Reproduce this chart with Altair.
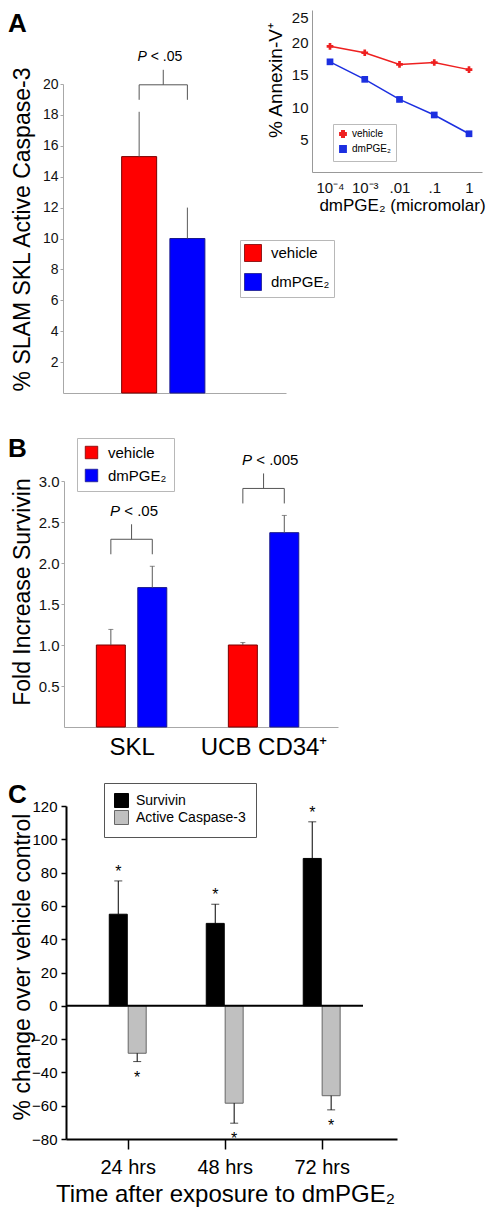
import altair as alt
import pandas as pd

FONT = "Liberation Sans"
W, H = 481, 1208

# ---------------- data ----------------
a_series = ["vehicle", "dmPGE₂"]
a_values = [15.3, 10.0]
a_err = [18.2, 12.0]
a_p = ["< .05"]

inset_x_labels = ["10⁻⁴", "10⁻³", ".01", ".1", "1"]
inset_vehicle = [19.4, 18.4, 16.6, 16.9, 15.8]
inset_dmpge2 = [17.0, 14.3, 11.2, 8.8, 5.9]

b_groups = ["SKL", "UCB CD34⁺"]
b_vehicle = [1.0, 1.0]
b_vehicle_err = [1.19, 1.03]
b_dmpge2 = [1.70, 2.37]
b_dmpge2_err = [1.96, 2.58]
b_p = ["< .05", "< .005"]

c_times = ["24 hrs", "48 hrs", "72 hrs"]
c_series = ["Survivin", "Active Caspase-3"]
c_survivin = [55, 49.5, 88.5]
c_survivin_err = [75, 61, 110.5]
c_caspase = [-28.5, -58.5, -54]
c_caspase_err = [-33.5, -70.5, -62.5]

panel_letters = ["A", "B", "C"]

# ---------------- tables ----------------
df_a = pd.DataFrame({"series": a_series, "idx": list(range(len(a_series))),
                     "value": a_values, "err": a_err})
df_a_br = pd.DataFrame({"x1": [0], "x2": [len(a_series) - 1], "base": [max(a_err)], "p": a_p})

rows = []
for i in range(len(inset_x_labels)):
    rows.append(dict(idx=i, series=a_series[0], value=inset_vehicle[i]))
    rows.append(dict(idx=i, series=a_series[1], value=inset_dmpge2[i]))
df_in = pd.DataFrame(rows)

rows = []
for i, g in enumerate(b_groups):
    rows.append(dict(group=g, g=i, series=a_series[0], s=0, value=b_vehicle[i], err=b_vehicle_err[i]))
    rows.append(dict(group=g, g=i, series=a_series[1], s=1, value=b_dmpge2[i], err=b_dmpge2_err[i]))
df_b = pd.DataFrame(rows)
df_b_br = pd.DataFrame({"g": list(range(len(b_groups))),
                        "base": [max(v, d) for v, d in zip(b_vehicle_err, b_dmpge2_err)],
                        "p": b_p})

rows = []
for i, t in enumerate(c_times):
    rows.append(dict(time=t, g=i, series=c_series[0], s=0, value=c_survivin[i], err=c_survivin_err[i]))
    rows.append(dict(time=t, g=i, series=c_series[1], s=1, value=c_caspase[i], err=c_caspase_err[i]))
df_c = pd.DataFrame(rows)
df_zero = pd.DataFrame({"zero": [0]})

# ---------------- helpers ----------------
GRAY = "#a8a8a8"
BR = "#555555"
TITLE_BASE_X = 21  # plot-x of rotated y-title baselines


def label_expr(labels):
    return "[" + ",".join("'%s'" % l for l in labels) + "][datum.value]"


def letter(t, y):
    return alt.Chart(pd.DataFrame({"t": [t]})).mark_text(
        fontSize=26, fontWeight="bold", align="left", baseline="alphabetic", color="#000"
    ).encode(x=alt.value(0), y=alt.value(y), text="t:N")


def bracket(base_chart, dx, size):
    legs = base_chart.transform_fold(["x1", "x2"], as_=["k", "lx"]).mark_rule(
        color=BR, strokeWidth=1, yOffset=-12, y2Offset=-27
    ).encode(x="lx:Q", y="base:Q", y2="base:Q")
    hbar = base_chart.mark_rule(color=BR, strokeWidth=1, yOffset=-27).encode(
        x="x1:Q", x2="x2:Q", y="base:Q")
    tick = base_chart.mark_rule(color=BR, strokeWidth=1, yOffset=-27, y2Offset=-42).encode(
        x="xc:Q", y="base:Q", y2="base:Q")
    ptxt = base_chart.mark_text(text="P", fontStyle="italic", fontSize=size, align="left",
                                baseline="middle", dx=dx, dy=-55, color="#000").encode(
        x="xc:Q", y="base:Q")
    rest = base_chart.mark_text(fontSize=size, align="left", baseline="middle",
                                dx=dx + size * 0.945, dy=-55, color="#000").encode(
        x="xc:Q", y="base:Q", text="p:N")
    return [legs, hbar, tick, ptxt, rest]


def ytitle_axis(**kw):
    base = dict(grid=False, titleFontWeight="normal", titleAngle=270, titleAlign="center",
                titleBaseline="alphabetic", titleColor="#000", labelColor="#111")
    base.update(kw)
    return alt.Axis(**base)


# ---------------- panel A ----------------
sa_x = alt.Scale(domain=[-1.475, 2.941], range=[55, 278], nice=False, zero=False)
sa_y = alt.Scale(domain=[0, 20], range=[385, 76], nice=False, zero=False)

a_bars = alt.Chart(df_a).mark_bar(size=35, strokeWidth=1).encode(
    x=alt.X("idx:Q", scale=sa_x, axis=alt.Axis(orient="bottom", offset=385 - H, ticks=False,
                                               labels=False, grid=False, title=None,
                                               domainColor=GRAY, domainWidth=1)),
    y=alt.Y("value:Q", scale=sa_y, axis=ytitle_axis(
        orient="left", offset=-55, values=list(range(2, 21, 2)), format="d", tickSize=3,
        tickColor=GRAY, domainColor=GRAY, labelFontSize=14, labelPadding=2,
        title="% SLAM SKL Active Caspase-3", titleFontSize=23,
        titleX=TITLE_BASE_X - 55, titleY=221)),
    color=alt.Color("series:N", scale=alt.Scale(domain=a_series, range=["#ff0000", "#0000ff"]),
                    legend=alt.Legend(orient="none", legendX=232, legendY=232, title=None,
                                      symbolType="square", symbolSize=289, labelFontSize=15,
                                      padding=4, rowPadding=7, labelOffset=9,
                                      strokeColor="#b8b8b8", fillColor="white",
                                      symbolStrokeColor="#444", symbolStrokeWidth=0.8,
                                      labelColor="#000")),
    stroke=alt.Stroke("series:N", scale=alt.Scale(domain=a_series, range=["#7a0000", "#1a1a8c"]),
                      legend=None),
)
a_errs = alt.Chart(df_a).mark_rule(color="#5a5a5a", strokeWidth=1).encode(
    x="idx:Q", y="value:Q", y2="err:Q")
a_br = alt.Chart(df_a_br).transform_calculate(xc="(datum.x1 + datum.x2) / 2")
panelA = alt.layer(a_bars, a_errs, *bracket(a_br, -25.75, 14), letter(panel_letters[0], 24))

# ---------------- inset ----------------
si_x = alt.Scale(domain=[-0.518, 4.374], range=[304, 474], nice=False, zero=False)
si_y = alt.Scale(domain=[0, 25], range=[164, 2], nice=False, zero=False)
in_leg = alt.Legend(orient="none", legendX=325, legendY=116, title=None, labelFontSize=10,
                    symbolSize=40, padding=5, rowPadding=1, labelOffset=4,
                    strokeColor="#bbbbbb", fillColor="white", labelColor="#000")
in_lines = alt.Chart(df_in).mark_line(strokeWidth=1.5).encode(
    x=alt.X("idx:Q", scale=si_x, axis=alt.Axis(
        orient="bottom", offset=164 - H, values=list(range(len(inset_x_labels))),
        labelExpr=label_expr(inset_x_labels), ticks=False, tickSize=0, labelPadding=20,
        labelBaseline="alphabetic", labelFontSize=15, labelFlush=False, labelOverlap=False,
        domainColor="#999999", grid=False, labelColor="#111",
        title="dmPGE₂ (micromolar)", titleFontSize=17, titleFontWeight="normal",
        titleX=394, titleY=38, titleAlign="center", titleBaseline="alphabetic",
        titleColor="#000")),
    y=alt.Y("value:Q", scale=si_y, axis=ytitle_axis(
        orient="left", offset=-304, values=[5, 10, 15, 20, 25], format="d", ticks=False,
        tickSize=0, labelPadding=4, labelFontSize=15, domainColor="#999999",
        labelFlush=True, labelOverlap=False,
        title="% Annexin-V⁺", titleFontSize=19, titleX=-31, titleY=72)),
    color=alt.Color("series:N", scale=alt.Scale(domain=a_series, range=["#ee2020", "#1c2fe0"]),
                    legend=in_leg),
)
in_pts = alt.Chart(df_in).mark_point(filled=True, size=45, opacity=1).encode(
    x="idx:Q", y="value:Q",
    color=alt.Color("series:N", legend=in_leg),
    shape=alt.Shape("series:N", scale=alt.Scale(domain=a_series, range=["cross", "square"]),
                    legend=in_leg),
)
inset = alt.layer(in_lines, in_pts)

# ---------------- panel B ----------------
B_SEP = 0.314
sb_x = alt.Scale(domain=[-0.474, 1.526], range=[56, 330], nice=False, zero=False)
sb_y = alt.Scale(domain=[0, 3], range=[719, 473], nice=False, zero=False)
b_base = alt.Chart(df_b).transform_calculate(xpos="datum.g + (datum.s - 0.5) * %f" % B_SEP)
b_bars = b_base.mark_bar(size=29, strokeWidth=1).encode(
    x=alt.X("xpos:Q", scale=sb_x, axis=alt.Axis(
        orient="bottom", offset=719 - H, values=list(range(len(b_groups))),
        labelExpr=label_expr(b_groups), ticks=False, tickSize=0, labelPadding=27,
        labelBaseline="alphabetic", labelFontSize=24, labelFlush=False, labelOverlap=False,
        domainColor=GRAY, grid=False, title=None, labelColor="#000")),
    y=alt.Y("value:Q", scale=sb_y, axis=ytitle_axis(
        orient="left", offset=-56, values=[0.5, 1.0, 1.5, 2.0, 2.5, 3.0], format=".1f",
        tickSize=3, tickColor=GRAY, domainColor=GRAY, labelFontSize=15, labelPadding=2,
        title="Fold Increase Survivin", titleFontSize=23,
        titleX=TITLE_BASE_X - 56, titleY=583.5)),
    color=alt.Color("series:N", scale=alt.Scale(domain=a_series, range=["#ff0000", "#0000ff"]),
                    legend=alt.Legend(orient="none", legendX=69, legendY=430, title=None,
                                      symbolType="square", symbolSize=156, labelFontSize=15,
                                      padding=7, rowPadding=6, labelOffset=9,
                                      strokeColor="#b8b8b8", fillColor="white",
                                      symbolStrokeColor="#444", symbolStrokeWidth=0.8,
                                      labelColor="#000")),
    stroke=alt.Stroke("series:N", scale=alt.Scale(domain=a_series, range=["#7a0000", "#1a1a8c"]),
                      legend=None),
)
b_errs = b_base.mark_rule(color="#5a5a5a", strokeWidth=1).encode(
    x="xpos:Q", y="value:Q", y2="err:Q")
b_caps = b_base.mark_tick(orient="horizontal", size=5, thickness=1, color="#5a5a5a").encode(
    x="xpos:Q", y="err:Q")
b_br = alt.Chart(df_b_br).transform_calculate(
    x1="datum.g - %f" % (B_SEP / 2), x2="datum.g + %f" % (B_SEP / 2), xc="datum.g")
panelB = alt.layer(b_bars, b_errs, b_caps, *bracket(b_br, -21.5, 15), letter(panel_letters[1], 449))

# ---------------- panel C ----------------
C_SEP = 0.195
sc_x = alt.Scale(domain=[-0.585, 2.725], range=[58, 389], nice=False, zero=False)
sc_y = alt.Scale(domain=[-80, 120], range=[1131, 798], nice=False, zero=False)
c_base = alt.Chart(df_c).transform_calculate(xpos="datum.g + (datum.s - 0.5) * %f" % C_SEP)
c_bars = c_base.mark_bar(size=18, strokeWidth=1).encode(
    x=alt.X("xpos:Q", scale=sc_x, axis=alt.Axis(
        orient="bottom", offset=1131 - H, values=list(range(len(c_times))),
        labelExpr=label_expr(c_times), tickSize=10, tickWidth=1.5, tickColor="#000",
        labelPadding=24, labelBaseline="alphabetic", labelFontSize=20, labelFlush=False,
        labelOverlap=False, domainColor="#000", domainWidth=2, grid=False, labelColor="#000",
        title="Time after exposure to dmPGE₂", titleFontSize=24, titleFontWeight="normal",
        titleX=217, titleY=62, titleAlign="center", titleBaseline="alphabetic",
        titleColor="#000")),
    y=alt.Y("value:Q", scale=sc_y, axis=ytitle_axis(
        orient="left", offset=-58, values=list(range(-80, 121, 20)), format="d", tickSize=5,
        tickWidth=1.5, tickColor="#000", domainColor="#000", domainWidth=2, labelFontSize=15,
        labelPadding=4, labelColor="#000",
        title="% change over vehicle control", titleFontSize=23,
        titleX=TITLE_BASE_X - 58, titleY=958.5)),
    color=alt.Color("series:N", scale=alt.Scale(domain=c_series, range=["#000000", "#c0c0c0"]),
                    legend=alt.Legend(orient="none", legendX=96, legendY=775, title=None,
                                      symbolType="square", symbolSize=196, labelFontSize=14,
                                      padding=10, rowPadding=-3, labelOffset=7,
                                      strokeColor="#555555", fillColor="white",
                                      symbolStrokeColor="#444", symbolStrokeWidth=1,
                                      labelColor="#000")),
    stroke=alt.Stroke("series:N", scale=alt.Scale(domain=c_series, range=["#000000", "#666666"]),
                      legend=None),
)
c_errs = c_base.mark_rule(color="#000", strokeWidth=1).encode(
    x="xpos:Q", y="value:Q", y2="err:Q")
c_caps = c_base.mark_tick(orient="horizontal", size=8, thickness=1, color="#000").encode(
    x="xpos:Q", y="err:Q")
c_star_up = c_base.transform_filter("datum.err > 0").mark_text(
    text="*", fontSize=16, baseline="alphabetic", dy=-4, color="#000").encode(
    x="xpos:Q", y="err:Q")
c_star_dn = c_base.transform_filter("datum.err < 0").mark_text(
    text="*", fontSize=16, baseline="alphabetic", dy=21, color="#000").encode(
    x="xpos:Q", y="err:Q")
c_zero = alt.Chart(df_zero).mark_rule(color="#000", strokeWidth=2).encode(
    x=alt.value(58), x2=alt.value(355), y="zero:Q")
panelC = alt.layer(c_bars, c_zero, c_errs, c_caps, c_star_up, c_star_dn, letter(panel_letters[2], 795))

# ---------------- compose ----------------
chart = alt.layer(panelA, inset, panelB, panelC).resolve_scale(
    x="independent", y="independent", color="independent", stroke="independent",
    shape="independent"
).resolve_axis(x="independent", y="independent").resolve_legend(
    color="independent", stroke="independent", shape="independent"
).properties(
    width=W, height=H, padding=0, autosize=alt.AutoSizeParams(type="none")
).configure(font=FONT).configure_view(stroke=None).configure_axis(
    labelFont=FONT, titleFont=FONT, grid=False
).configure_legend(labelFont=FONT)

chart.save("out.html", embed_options={"renderer": "svg", "actions": False})
